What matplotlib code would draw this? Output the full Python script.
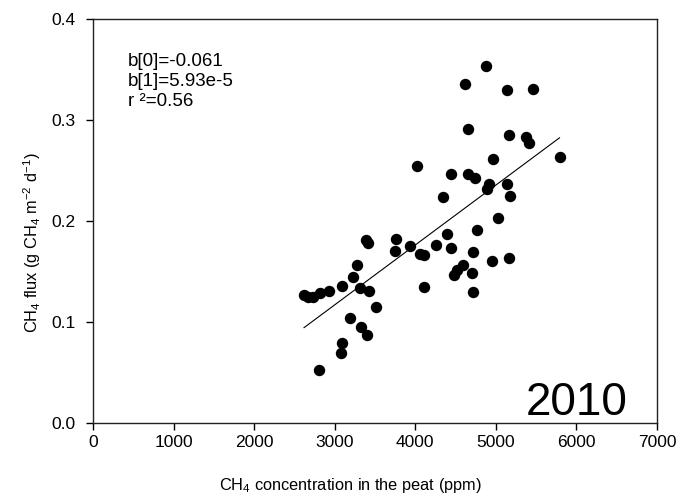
import numpy as np
import matplotlib
matplotlib.use("Agg")
import matplotlib.pyplot as plt

plt.rcParams['font.family'] = ['Liberation Sans', 'DejaVu Sans']
plt.rcParams['mathtext.default'] = 'regular'

# CH4 concentration in the peat (ppm) and CH4 flux (g CH4 m-2 d-1)
conc = [2619, 2672, 2727, 2817, 2933, 3094, 3231, 3314, 3422, 3512,
        3190, 3320, 3397, 3087, 3074, 2809, 3388, 3407, 3761, 3748,
        3280, 4025, 4443, 4650, 4741, 4968, 4918, 4894, 4348, 5023,
        4766, 4390, 3940, 4253, 4437, 4058, 4108, 4716, 4596, 4514,
        4484, 4698, 4948, 4108, 4722, 4874, 4621, 5138, 5457, 4654,
        5163, 5374, 5415, 5790, 5134, 5175, 5167]
flux = [0.1267, 0.1250, 0.1250, 0.1284, 0.1310, 0.1359, 0.1445, 0.1332, 0.1305, 0.1151,
        0.1037, 0.0950, 0.0866, 0.0789, 0.0690, 0.0522, 0.1807, 0.1782, 0.1822, 0.1706,
        0.1567, 0.2544, 0.2465, 0.2465, 0.2428, 0.2614, 0.2366, 0.2314, 0.2242, 0.2030,
        0.1911, 0.1871, 0.1752, 0.1760, 0.1730, 0.1670, 0.1660, 0.1696, 0.1564, 0.1510,
        0.1465, 0.1487, 0.1607, 0.1346, 0.1297, 0.3534, 0.3356, 0.3297, 0.3307, 0.2911,
        0.2851, 0.2828, 0.2775, 0.2633, 0.2363, 0.2250, 0.1636]

# regression coefficients shown on the chart
b0 = -0.061
b1 = 5.93e-5
r2 = 0.56
year = "2010"

fig = plt.figure(figsize=(6.79, 5.01), dpi=100)
ax = fig.add_axes([0.137, 0.156, 0.8306, 0.806])

ax.plot(conc, flux, 'o', color='black', ms=7.2, mec='black', zorder=3)

# fitted line over the data range
xs = np.array([min(conc), max(conc)])
ax.plot(xs, b0 + b1 * xs, color='black', lw=0.8)

ax.set_xlim(0, 7000)
ax.set_ylim(0, 0.4)
ax.set_xticks(np.arange(0, 7001, 1000))
ax.set_yticks([0.0, 0.1, 0.2, 0.3, 0.4])
ax.set_yticklabels(['0.0', '0.1', '0.2', '0.3', '0.4'])
ax.tick_params(direction='out', length=5, width=1, labelsize=12.5)
ax.tick_params(axis='y', pad=7.5)
ax.tick_params(axis='x', pad=4)
for s in ax.spines.values():
    s.set_linewidth(1)
    s.set_color('#222222')

ax.set_xlabel('CH$_4$ concentration in the peat (ppm)', fontsize=11.8)
ax.set_ylabel('CH$_4$ flux (g CH$_4$ m$^{-2}$ d$^{-1}$)', fontsize=11.8)
ax.xaxis.set_label_coords(0.456, -0.155)
ax.xaxis.label.set_va('center')
ax.yaxis.set_label_coords(-0.108, 0.445)
ax.yaxis.label.set_va('center')
ax.yaxis.label.set_ha('center')

ax.text(0.062, 0.895, 'b[0]=' + str(b0), transform=ax.transAxes, fontsize=13.5, va='center')
ax.text(0.062, 0.846, 'b[1]=5.93e-5', transform=ax.transAxes, fontsize=13.5, va='center')
ax.text(0.062, 0.7965, 'r ²=' + str(r2), transform=ax.transAxes, fontsize=13.5, va='center')
ax.text(0.9486, 0.02, year, transform=ax.transAxes, fontsize=33, ha='right', va='baseline')

fig.savefig('out.png', dpi=100)
